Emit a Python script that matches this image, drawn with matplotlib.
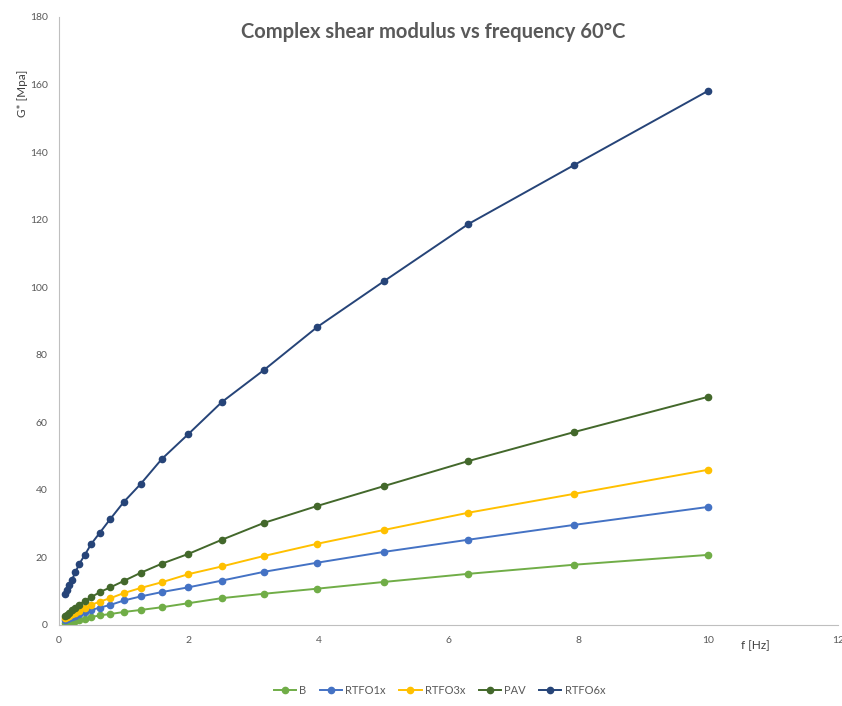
import matplotlib.pyplot as plt

plt.rcParams['font.family'] = ['Lato', 'DejaVu Sans']

freq = [0.1, 0.126, 0.158, 0.2, 0.251, 0.316, 0.398, 0.5, 0.631, 0.794,
        1.0, 1.259, 1.585, 1.995, 2.512, 3.162, 3.981, 5.012, 6.31, 7.943, 10.0]

g_b = [0.62, 0.74, 0.88, 1.05, 1.25, 1.5, 1.8, 2.3, 2.8, 3.2,
       3.8, 4.4, 5.2, 6.4, 7.9, 9.2, 10.7, 12.7, 15.1, 17.8, 20.7]
g_rtfo1 = [1.4, 1.6, 1.9, 2.3, 2.7, 3.2, 3.8, 4.4, 5.1, 5.9,
           7.2, 8.4, 9.7, 11.1, 13.1, 15.7, 18.4, 21.6, 25.2, 29.6, 34.9]
g_rtfo3 = [1.9, 2.2, 2.6, 3.1, 3.6, 4.2, 4.9, 5.9, 6.9, 7.9,
           9.4, 10.9, 12.6, 15.0, 17.3, 20.4, 24.0, 28.1, 33.2, 38.8, 45.9]
g_pav = [2.5, 3.0, 3.6, 4.3, 5.0, 6.0, 7.1, 8.2, 9.7, 11.1,
         13.0, 15.4, 18.1, 21.0, 25.2, 30.2, 35.2, 41.1, 48.5, 57.1, 67.5]
g_rtfo6 = [9.2, 10.4, 11.8, 13.3, 15.5, 18.1, 20.7, 24.0, 27.3, 31.4,
           36.4, 41.7, 49.1, 56.5, 66.0, 75.5, 88.2, 101.8, 118.7, 136.2, 158.1]

series = [('B', g_b, '#70AD47'),
          ('RTFO1x', g_rtfo1, '#4472C4'),
          ('RTFO3x', g_rtfo3, '#FFC000'),
          ('PAV', g_pav, '#43682B'),
          ('RTFO6x', g_rtfo6, '#264478')]

fig = plt.figure(figsize=(8.42, 7.06), dpi=100)
ax = fig.add_axes([0.070, 0.115, 0.925, 0.861])

for name, vals, col in series:
    ax.plot(freq, vals, color=col, lw=1.4, marker='o', ms=4.5, label=name)

ax.set_xlim(0, 12)
ax.set_ylim(0, 180)
ax.set_xticks(range(0, 13, 2))
ax.set_yticks(range(0, 181, 20))
ax.tick_params(length=0, labelsize=7.5, labelcolor='#595959', pad=8)
for s in ['top', 'right']:
    ax.spines[s].set_visible(False)
ax.spines['left'].set_color('#BFBFBF')
ax.spines['bottom'].set_color('#BFBFBF')

fig.text(0.514, 0.955, 'Complex shear modulus vs frequency 60°C', ha='center', va='center',
         fontsize=14.5, fontweight='bold', color='#595959')
fig.text(0.027, 0.868, 'G* [Mpa]', rotation=90, ha='center', va='center', fontsize=8.5, color='#404040')
fig.text(0.897, 0.086, 'f [Hz]', ha='center', va='center', fontsize=8.5, color='#404040')

fig.legend(loc='center', bbox_to_anchor=(0.522, 0.022), ncol=5, frameon=False,
           fontsize=8, labelcolor='#595959', handlelength=2.0, handletextpad=0.3,
           columnspacing=1.2)

fig.savefig('out.png')
